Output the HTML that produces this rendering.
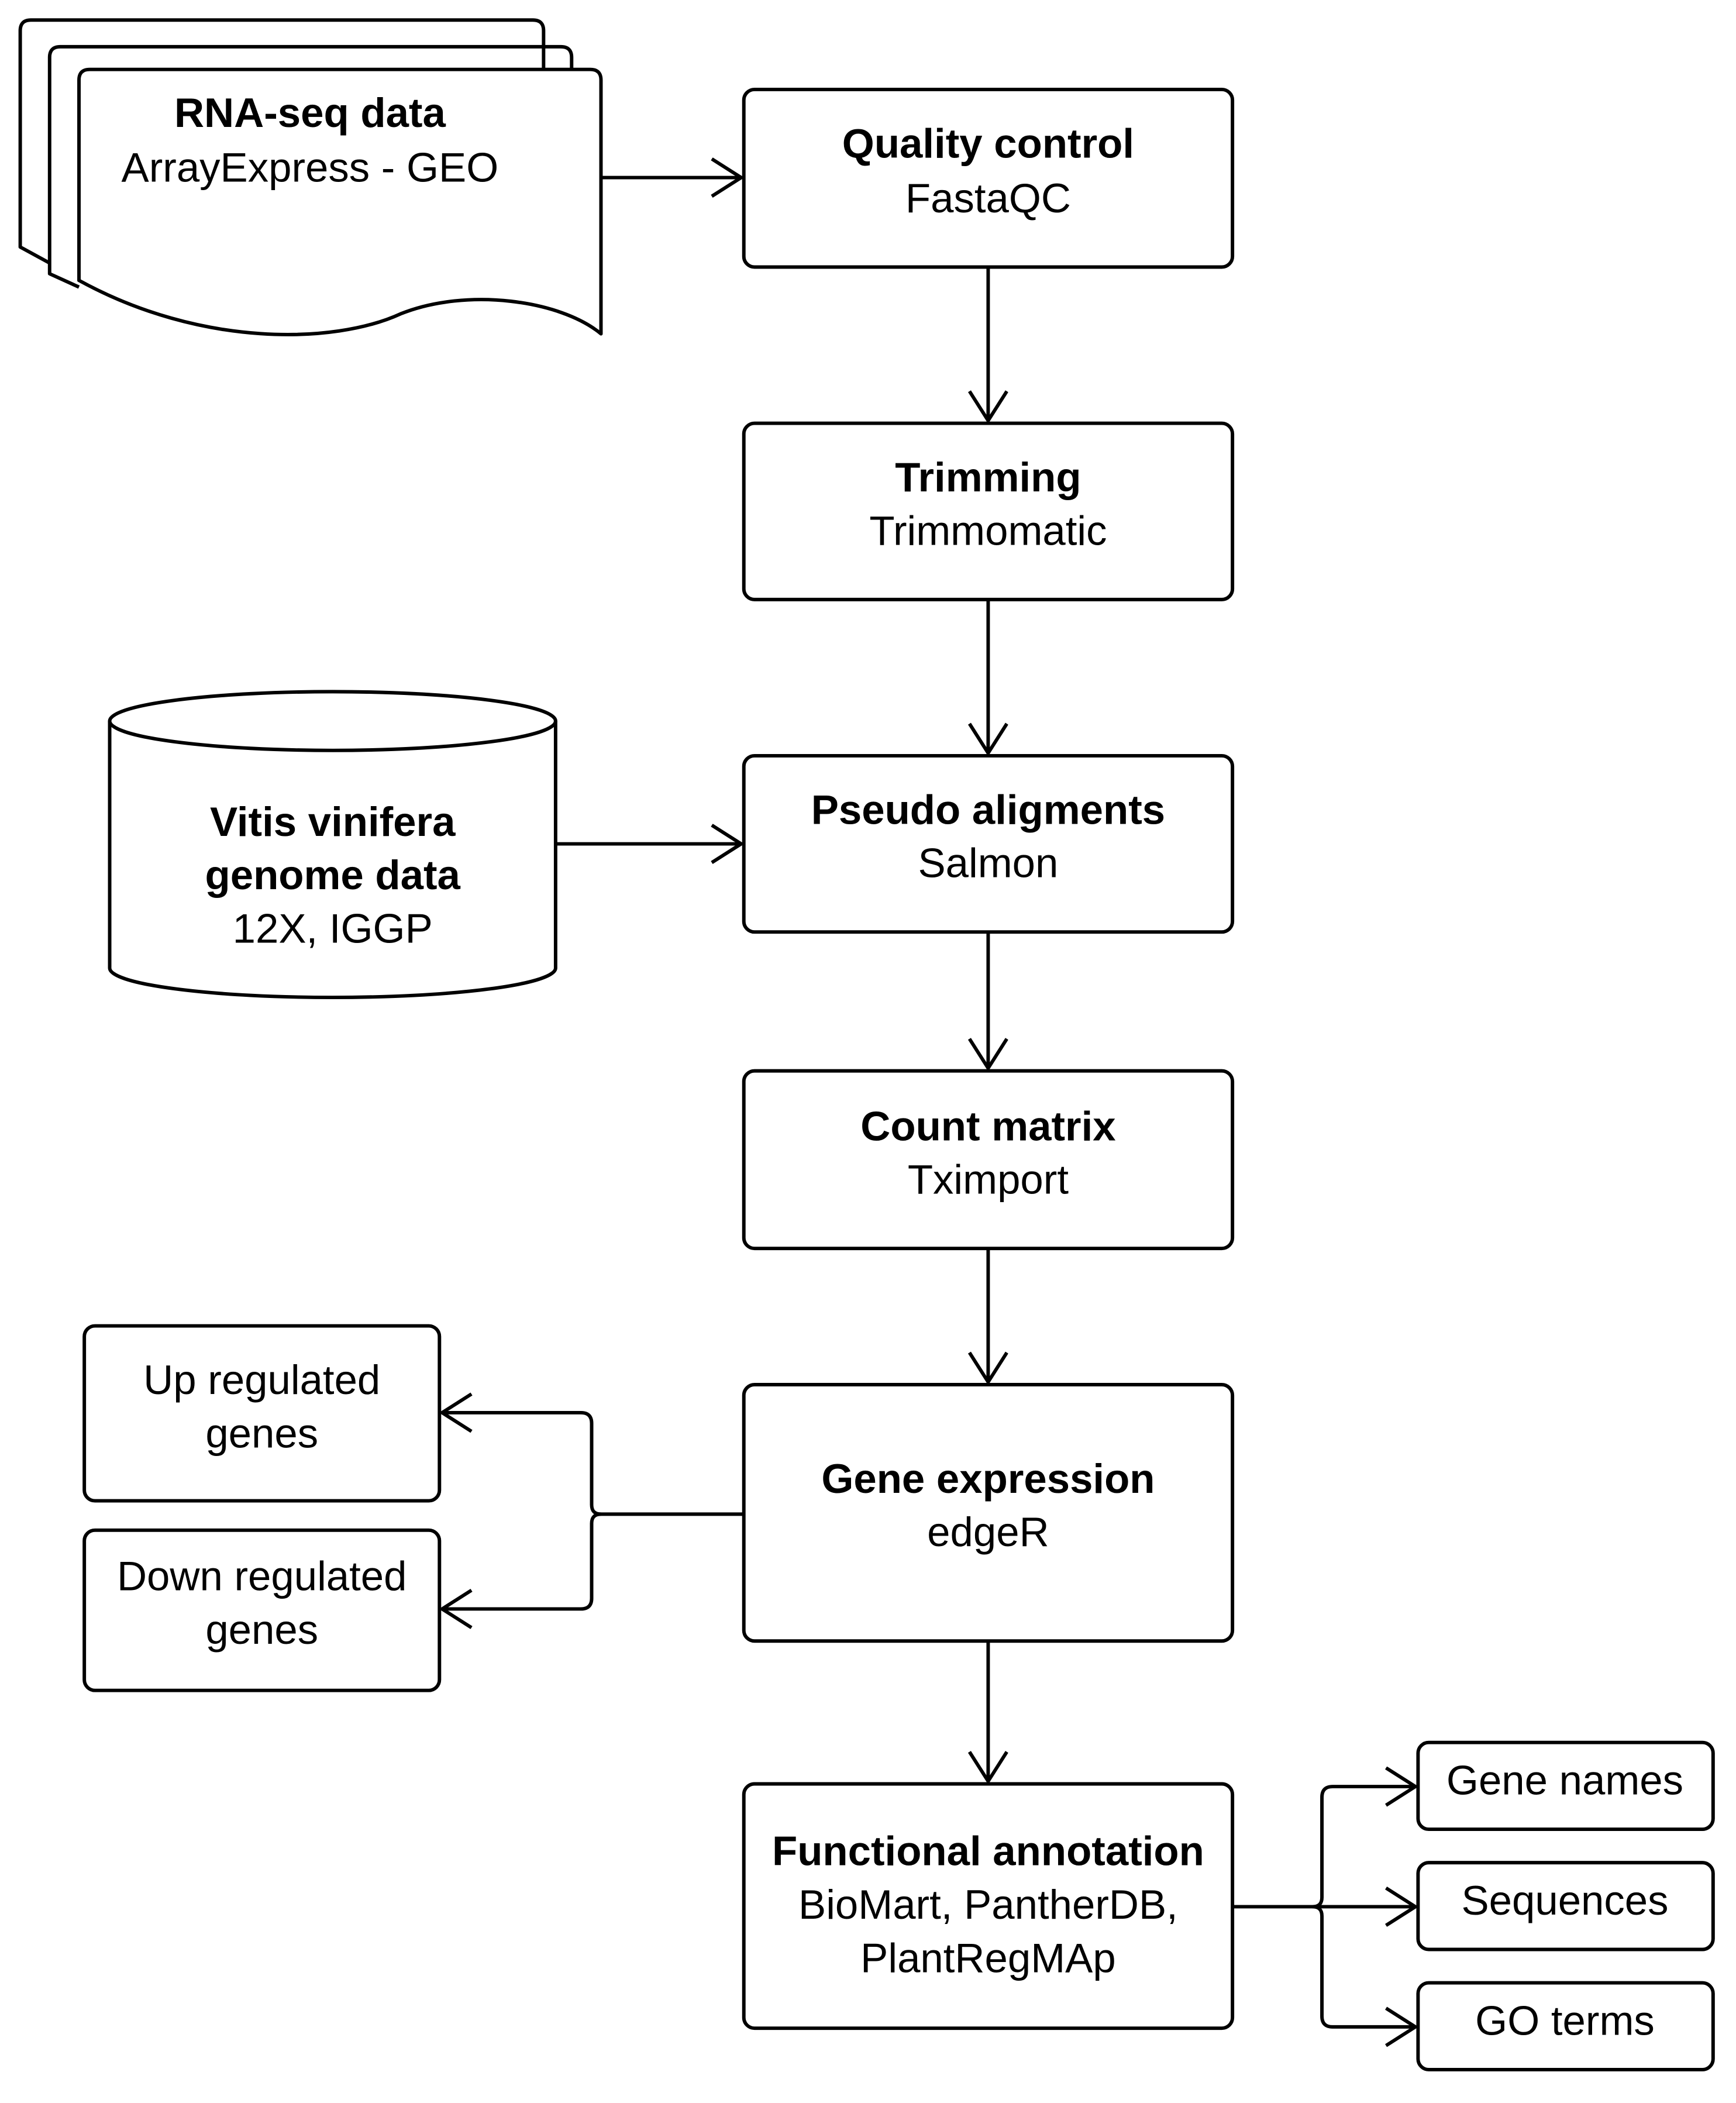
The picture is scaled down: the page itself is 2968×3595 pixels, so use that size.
<!DOCTYPE html>
<html><head><meta charset="utf-8"><style>html,body{margin:0;padding:0;background:#fff}svg{display:block}</style></head>
<body>
<svg width="2968" height="3595" viewBox="0 0 1300 1575" xmlns="http://www.w3.org/2000/svg">
<defs>
<marker id="a" viewBox="0 0 24 30" refX="23" refY="15" markerWidth="24" markerHeight="30" markerUnits="userSpaceOnUse" orient="auto">
<path d="M1,1 L23,15 L1,29" fill="none" stroke="#000" stroke-width="2.6"/>
</marker>
</defs>
<g fill="none" stroke="#000" stroke-width="2.6" stroke-linejoin="round">
<path d="M37,197 L15,185 L15,23 Q15,15 23,15 L399,15 Q407,15 407,23 L407,52"/>
<path d="M59,215 L37,205 L37,43 Q37,35 45,35 L420,35 Q428,35 428,43 L428,52"/>
<path d="M59,210 L59,60 Q59,52 67,52 L442,52 Q450,52 450,60 L450,250 C420,225 350,215 300,235 C250,258 150,260 59,210 Z" fill="#fff"/>
<rect x="557" y="67" width="366" height="133" rx="8"/>
<rect x="557" y="317" width="366" height="132" rx="8"/>
<rect x="557" y="566" width="366" height="132" rx="8"/>
<rect x="557" y="802" width="366" height="133" rx="8"/>
<rect x="557" y="1037" width="366" height="192" rx="8"/>
<rect x="557" y="1336" width="366" height="183" rx="8"/>
<rect x="63" y="993" width="266" height="131" rx="8"/>
<rect x="63" y="1146" width="266" height="120" rx="8"/>
<rect x="1062" y="1305" width="221" height="65" rx="8"/>
<rect x="1062" y="1395" width="221" height="65" rx="8"/>
<rect x="1062" y="1485" width="221" height="65" rx="8"/>
<path d="M82,540 L82,725 A167,22 0 0 0 416,725 L416,540"/>
<ellipse cx="249" cy="540" rx="167" ry="22"/>
<path d="M450,133 L555,133" marker-end="url(#a)"/>
<path d="M740,200 L740,315" marker-end="url(#a)"/>
<path d="M740,449 L740,564" marker-end="url(#a)"/>
<path d="M416,632 L555,632" marker-end="url(#a)"/>
<path d="M740,698 L740,800" marker-end="url(#a)"/>
<path d="M740,935 L740,1035" marker-end="url(#a)"/>
<path d="M740,1229 L740,1334" marker-end="url(#a)"/>
<path d="M557,1134 L450,1134 Q443,1134 443,1127 L443,1066 Q443,1058 435,1058 L331,1058" marker-end="url(#a)"/>
<path d="M450,1134 Q443,1134 443,1141 L443,1197 Q443,1205 435,1205 L331,1205" marker-end="url(#a)"/>
<path d="M923,1428 L1060,1428" marker-end="url(#a)"/>
<path d="M983,1428 Q990,1428 990,1421 L990,1346 Q990,1338 998,1338 L1060,1338" marker-end="url(#a)"/>
<path d="M983,1428 Q990,1428 990,1435 L990,1510 Q990,1518 998,1518 L1060,1518" marker-end="url(#a)"/>
</g>
<g font-family="Liberation Sans, sans-serif" font-size="31" text-anchor="middle" fill="#000">
<text x="232" y="95" font-weight="bold">RNA-seq data</text>
<text x="232" y="136">ArrayExpress - GEO</text>
<text x="740" y="118" font-weight="bold">Quality control</text>
<text x="740" y="159">FastaQC</text>
<text x="740" y="368" font-weight="bold">Trimming</text>
<text x="740" y="408">Trimmomatic</text>
<text x="740" y="617" font-weight="bold">Pseudo aligments</text>
<text x="740" y="657">Salmon</text>
<text x="740" y="854" font-weight="bold">Count matrix</text>
<text x="740" y="894">Tximport</text>
<text x="740" y="1118" font-weight="bold">Gene expression</text>
<text x="740" y="1158">edgeR</text>
<text x="740" y="1397" font-weight="bold">Functional annotation</text>
<text x="740" y="1437">BioMart, PantherDB,</text>
<text x="740" y="1477">PlantRegMAp</text>
<text x="249" y="626" font-weight="bold">Vitis vinifera</text>
<text x="249" y="666" font-weight="bold">genome data</text>
<text x="249" y="706">12X, IGGP</text>
<text x="196" y="1044">Up regulated</text>
<text x="196" y="1084">genes</text>
<text x="196" y="1191">Down regulated</text>
<text x="196" y="1231">genes</text>
<text x="1172" y="1344">Gene names</text>
<text x="1172" y="1434">Sequences</text>
<text x="1172" y="1524">GO terms</text>
</g>
</svg>
</body></html>
